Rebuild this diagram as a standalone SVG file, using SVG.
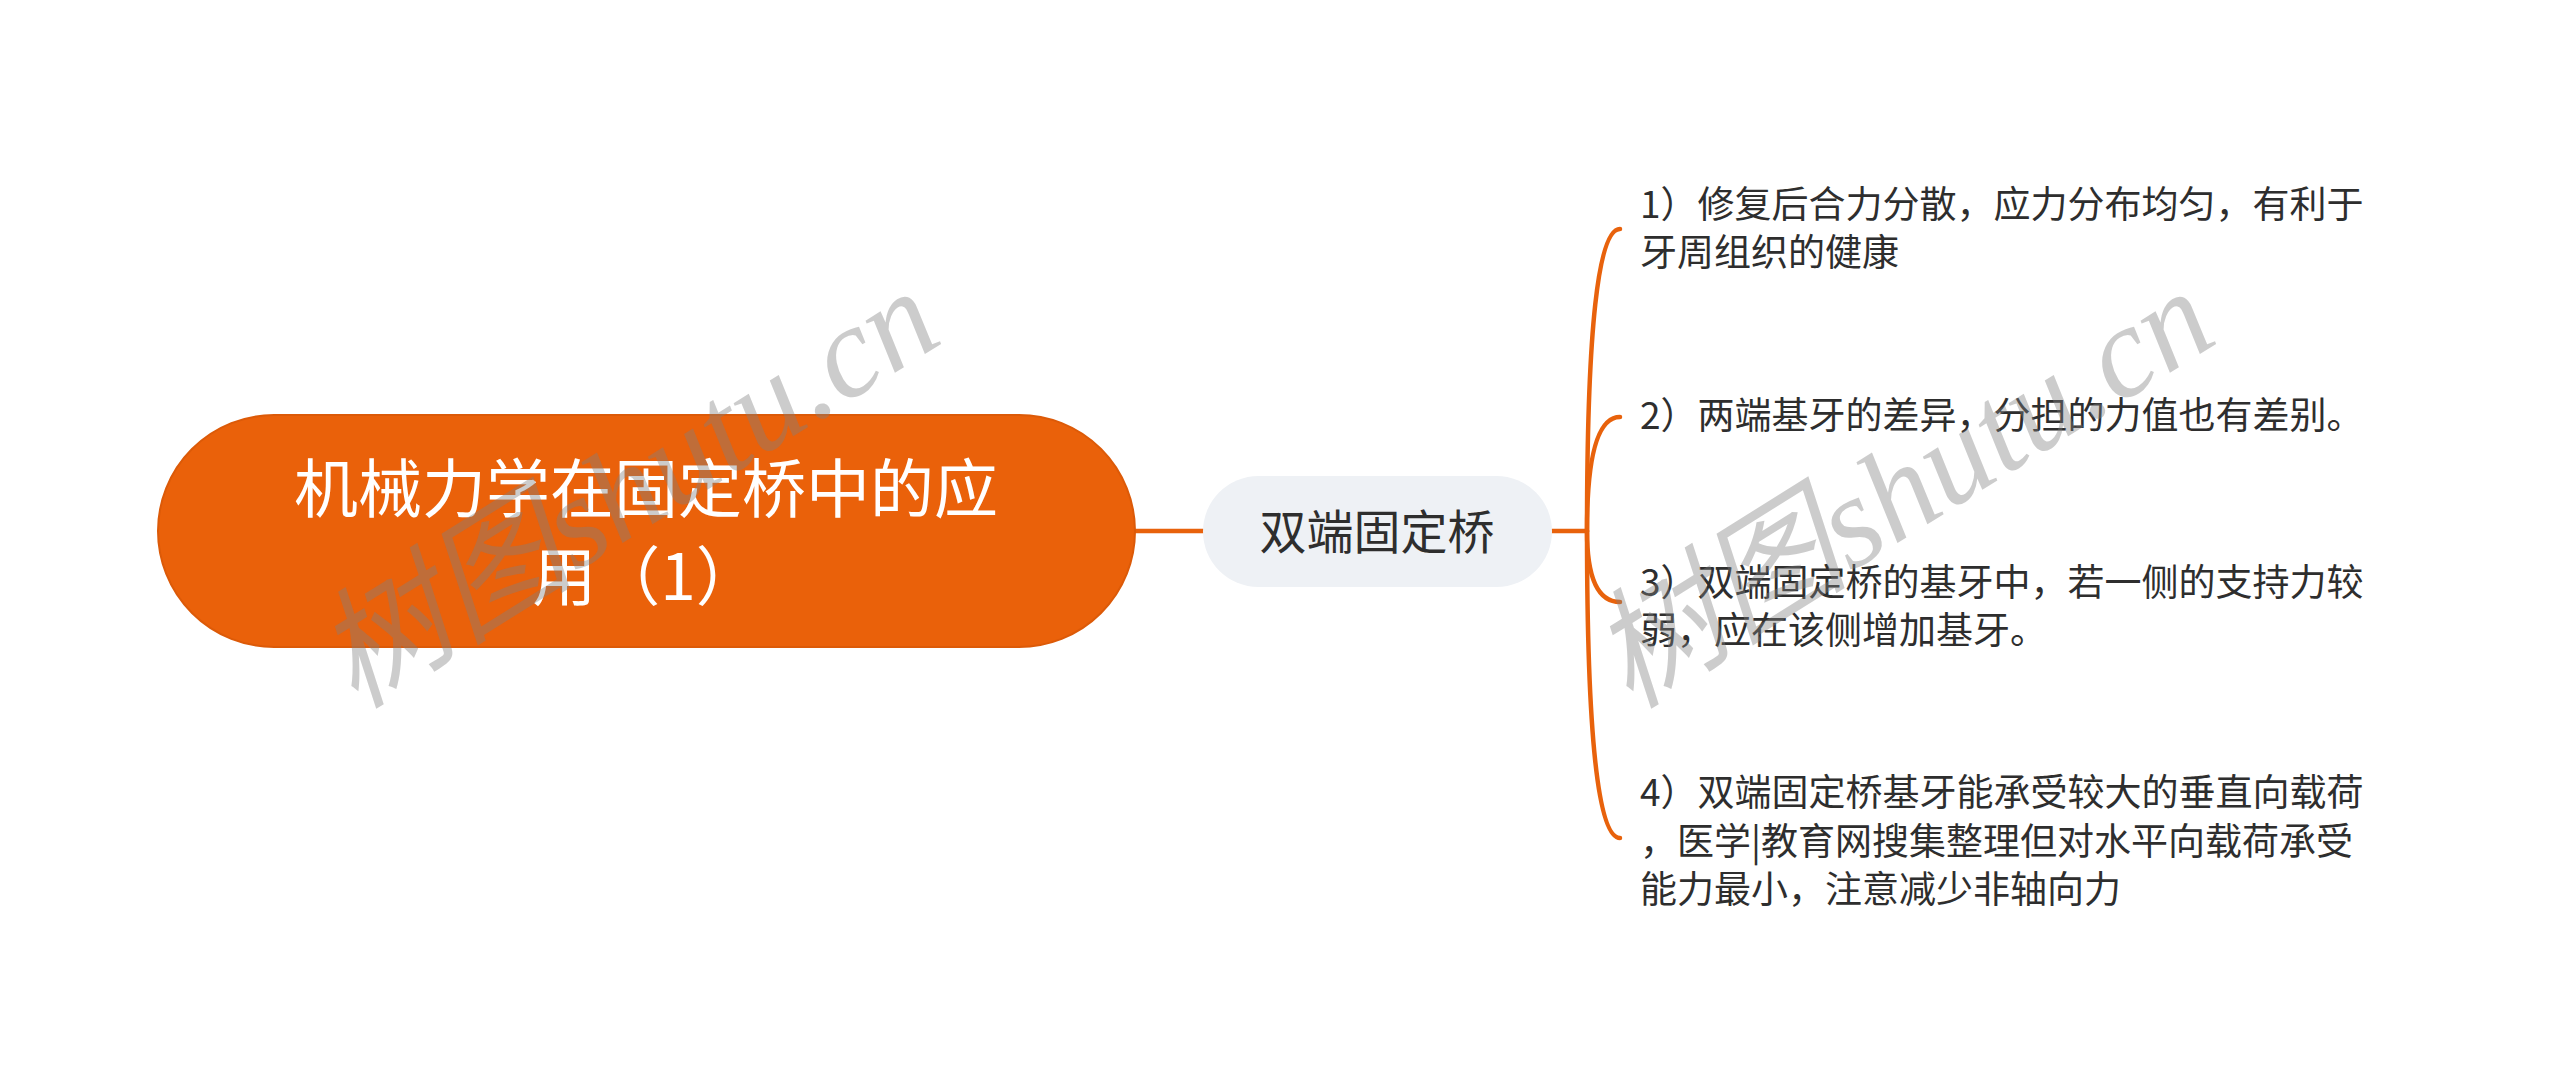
<svg xmlns="http://www.w3.org/2000/svg" width="2560" height="1087" viewBox="0 0 2560 1087">
<style>
.cjk{font-family:"Noto Sans CJK SC","Noto Sans",sans-serif;}
.root-shape{fill:#EA610A;stroke:#DC5A08;stroke-width:2;}
.root-text{fill:#FFFFFF;font-size:64px;text-anchor:middle;}
.sub-shape{fill:#EEF1F5;}
.sub-text{fill:#2E2E2E;font-size:47px;text-anchor:middle;}
.leaf-text{fill:#2E2E2E;font-size:37px;}
.conn{fill:none;stroke:#E8620C;stroke-width:4.5;stroke-linecap:round;}
.wm{font-family:"Liberation Serif","Noto Sans CJK SC",serif;font-style:italic;font-size:130px;fill:#808080;fill-opacity:0.4;}
</style>
<rect x="0" y="0" width="2560" height="1087" fill="#FFFFFF"/>
<g id="connectors">
<path class="conn" d="M1135 531 H1203"/>
<path class="conn" d="M1552 531 H1587"/>
<path class="conn" d="M1587 531 Q1587 229 1620 229"/>
<path class="conn" d="M1587 531 Q1587 417 1620 417"/>
<path class="conn" d="M1587 531 Q1587 602 1620 602"/>
<path class="conn" d="M1587 531 Q1587 838 1620 838"/>
</g>
<g id="root">
<rect class="root-shape" x="158" y="415" width="977" height="232" rx="116" ry="116"/>
<text class="cjk root-text" x="646" y="512">机械力学在固定桥中的应</text>
<text class="cjk root-text" x="646" y="600">用（1）</text>
</g>
<g id="sub">
<rect class="sub-shape" x="1203" y="476" width="349" height="111" rx="55.5" ry="55.5"/>
<text class="cjk sub-text" x="1377" y="549">双端固定桥</text>
</g>
<g id="leaf1">
<text class="cjk leaf-text" x="1640" y="218">1）修复后合力分散，应力分布均匀，有利于</text>
<text class="cjk leaf-text" x="1640" y="266">牙周组织的健康</text>
</g>
<g id="leaf2">
<text class="cjk leaf-text" x="1640" y="429">2）两端基牙的差异，分担的力值也有差别。</text>
</g>
<g id="leaf3">
<text class="cjk leaf-text" x="1640" y="596">3）双端固定桥的基牙中，若一侧的支持力较</text>
<text class="cjk leaf-text" x="1640" y="644">弱，应在该侧增加基牙。</text>
</g>
<g id="leaf4">
<text class="cjk leaf-text" x="1640" y="806">4）双端固定桥基牙能承受较大的垂直向载荷</text>
<text class="cjk leaf-text" x="1640" y="855">，医学|教育网搜集整理但对水平向载荷承受</text>
<text class="cjk leaf-text" x="1640" y="903">能力最小，注意减少非轴向力</text>
</g>
<g id="watermarks">
<text class="wm" x="0" y="0" transform="translate(355 710) rotate(-32)">树图shutu.cn</text>
<text class="wm" x="0" y="0" transform="translate(1630 710) rotate(-32)">树图shutu.cn</text>
</g>
</svg>
